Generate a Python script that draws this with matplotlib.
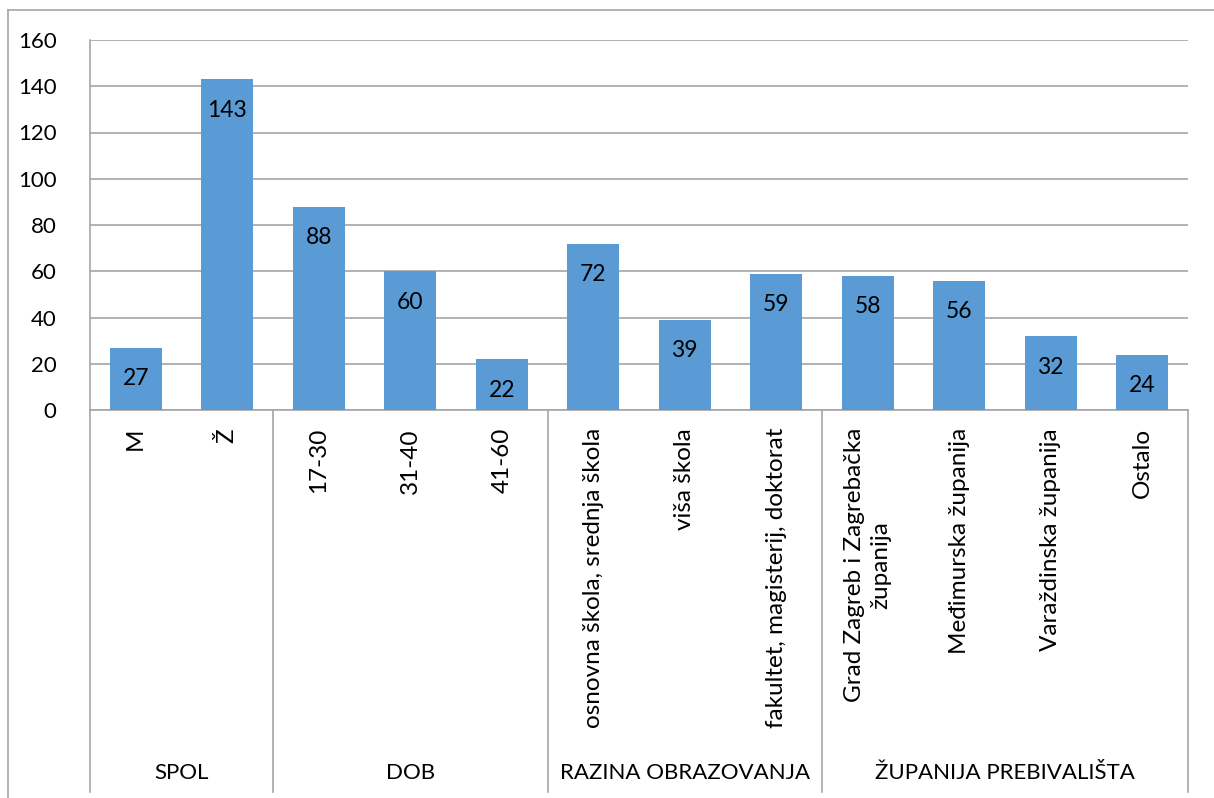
import numpy as np
import matplotlib
matplotlib.use("Agg")
import matplotlib.pyplot as plt
from matplotlib.lines import Line2D

plt.rcParams['font.family'] = ['Lato', 'DejaVu Sans']

# data
groups = ["SPOL", "DOB", "RAZINA OBRAZOVANJA", "ŽUPANIJA PREBIVALIŠTA"]
group_sizes = [2, 3, 3, 4]
categories = ["M", "Ž", "17-30", "31-40", "41-60",
              "osnovna škola, srednja škola", "viša škola",
              "fakultet, magisterij, doktorat",
              "Grad Zagreb i Zagrebačka\nžupanija", "Međimurska županija",
              "Varaždinska županija", "Ostalo"]
values = [27, 143, 88, 60, 22, 72, 39, 59, 58, 56, 32, 24]

W, H = 1214, 798
fig = plt.figure(figsize=(W / 100, H / 100), dpi=100)
# plot area in pixels: x 90..1188, y 40..410
ax = fig.add_axes([90 / W, 1 - 410 / H, (1188 - 90) / W, 370 / H])

grey = "#a6a6a6"
fs = 16
fs_rot = 17.5

x = np.arange(len(values))
bars = ax.bar(x, values, width=0.57, color="#5b9bd5", zorder=3)
for b, v in zip(bars, values):
    ax.annotate(str(v), (b.get_x() + b.get_width() / 2, v),
                xytext=(0, -31), textcoords="offset pixels",
                ha="center", va="center", fontsize=fs + 0.5, zorder=4)

ax.set_xlim(-0.5, len(values) - 0.5)
ax.set_ylim(0, 160)
ax.set_yticks(np.arange(0, 161, 20))
ax.yaxis.grid(True, color=grey, linewidth=1.2, zorder=0)
ax.tick_params(axis="y", length=0, pad=24, labelsize=fs)
ax.set_xticks([])
for s in ["top", "right"]:
    ax.spines[s].set_visible(False)
ax.spines["left"].set_color(grey)
ax.spines["bottom"].set_color(grey)
ax.spines["left"].set_linewidth(1.2)
ax.spines["bottom"].set_linewidth(1.2)

trans = ax.get_xaxis_transform()
sep_bottom = -(792 - 410) / 370

# inner category labels
for xi, lab in zip(x, categories):
    ax.text(xi, -(428 - 410) / 370, lab, rotation=90, ha="center", va="top",
            multialignment="center", linespacing=1.35,
            transform=trans, fontsize=fs_rot, clip_on=False)

# group separators and labels
start = 0
bounds = [-0.5]
for g, n in zip(groups, group_sizes):
    bounds.append(start + n - 0.5)
    ax.text(start + (n - 1) / 2, -(773 - 410) / 370, g, ha="center", va="center",
            transform=trans, fontsize=fs, clip_on=False)
    start += n
for bx in bounds:
    ax.add_line(Line2D([bx, bx], [0, sep_bottom], transform=trans, color=grey,
                       linewidth=1.2, clip_on=False))

# outer chart frame (top and left visible)
fig.add_artist(Line2D([8 / W, 1], [1 - 10 / H, 1 - 10 / H], color=grey, linewidth=1.2))
fig.add_artist(Line2D([8 / W, 8 / W], [0, 1 - 10 / H], color=grey, linewidth=1.2))

fig.savefig("out.png", dpi=100)
